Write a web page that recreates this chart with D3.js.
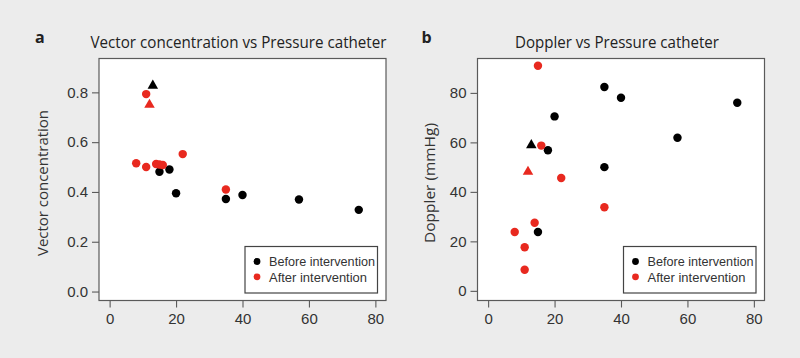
<!DOCTYPE html>
<html>
<head>
<meta charset="utf-8">
<script src="https://cdn.jsdelivr.net/npm/d3@7"></script>
<style>
  body { margin: 0; background: #ececec; }
  svg { display: block; font-family: "Open Sans", "Noto Sans", sans-serif; }
</style>
</head>
<body>
<svg id="chart" width="800" height="358"></svg>
<script>
// panel a: vector concentration vs pressure catheter
const vcBeforeX = [15, 18, 20, 35, 40, 57, 75];
const vcBeforeY = [0.481, 0.49, 0.395, 0.372, 0.388, 0.37, 0.328];
const vcBeforeTriX = [13];
const vcBeforeTriY = [0.827];
const vcAfterX = [11, 8, 11, 14, 15, 16, 22, 35];
const vcAfterY = [0.793, 0.515, 0.5, 0.512, 0.51, 0.508, 0.552, 0.41];
const vcAfterTriX = [12];
const vcAfterTriY = [0.75];

// panel b: doppler vs pressure catheter
const dpBeforeX = [35, 40, 20, 75, 57, 18, 35, 15];
const dpBeforeY = [82.4, 78, 70.5, 76, 61.9, 56.8, 50, 23.8];
const dpBeforeTriX = [13];
const dpBeforeTriY = [58.9];
const dpAfterX = [15, 16, 22, 35, 14, 8, 11, 11];
const dpAfterY = [91, 58.7, 45.6, 33.8, 27.5, 23.8, 17.6, 8.5];
const dpAfterTriX = [12];
const dpAfterTriY = [48.1];

const xTicks = [0, 20, 40, 60, 80];
const vcTicks = [0, 0.2, 0.4, 0.6, 0.8];
const dpTicks = [0, 20, 40, 60, 80];
const legendLabels = ["Before intervention", "After intervention"];

const black = "#000000", red = "#e8291f";
const svg = d3.select("#chart");

function zip(xs, ys) { return xs.map((x, i) => ({ x: x, y: ys[i] })); }

function drawPanel(opt) {
  const w = 287, h = 242;
  const g = svg.append("g").attr("transform", `translate(${opt.left},58.5)`);

  const x = d3.scaleLinear().domain([-3.2, 83.2]).range([0, w]);
  const y = d3.scaleLinear().domain(opt.yDomain).range([h, 0]);

  g.append("rect").attr("width", w).attr("height", h)
    .attr("fill", "#fff").attr("stroke", "#5a5a5a").attr("stroke-width", 1.2);

  // axes
  const xa = g.append("g").attr("transform", `translate(0,${h})`)
    .call(d3.axisBottom(x).tickValues(xTicks).tickSize(7).tickPadding(4));
  const ya = g.append("g")
    .call(d3.axisLeft(y).tickValues(opt.yTicks).tickFormat(opt.fmt).tickSize(7).tickPadding(4));
  [xa, ya].forEach(a => {
    a.select(".domain").remove();
    a.selectAll("line").attr("stroke", "#5a5a5a").attr("stroke-width", 1.1);
    a.selectAll("text").attr("fill", "#333").style("font-size", "15px");
  });
  xa.selectAll("text").attr("dy", "0.85em");

  // points
  const pts = [
    { data: zip(opt.bx, opt.by), color: black, shape: d3.symbolCircle, size: 56 },
    { data: zip(opt.btx, opt.bty), color: black, shape: d3.symbolTriangle, size: 48 },
    { data: zip(opt.ax, opt.ay), color: red, shape: d3.symbolCircle, size: 56 },
    { data: zip(opt.atx, opt.aty), color: red, shape: d3.symbolTriangle, size: 48 }
  ];
  pts.forEach(s => {
    g.selectAll(null).data(s.data).enter().append("path")
      .attr("d", d3.symbol().type(s.shape).size(s.size))
      .attr("transform", d => `translate(${x(d.x)},${y(d.y)})`)
      .attr("fill", s.color);
  });

  // legend
  const lg = g.append("g").attr("transform", `translate(${w - 141},${h - 54})`);
  lg.append("rect").attr("width", 132.5).attr("height", 46.5)
    .attr("fill", "#fff").attr("stroke", "#444").attr("stroke-width", 1.2);
  legendLabels.forEach((t, i) => {
    lg.append("circle").attr("cx", 12).attr("cy", 15 + i * 15.3).attr("r", 3.4)
      .attr("fill", i === 0 ? black : red);
    lg.append("text").attr("x", 24).attr("y", 15 + i * 15.3).attr("dy", "0.36em")
      .attr("fill", "#333").style("font-size", "13.5px")
      .style("font-family", "'Liberation Sans', Arial, sans-serif")
      .attr("textLength", i === 0 ? 106 : 98).attr("lengthAdjust", "spacingAndGlyphs")
      .text(t);
  });

  // title and panel letter
  svg.append("text").attr("x", opt.left + opt.titleX).attr("y", 48)
    .attr("text-anchor", "middle").attr("fill", "#222").style("font-size", "16.5px")
    .attr("textLength", opt.titleW).attr("lengthAdjust", "spacingAndGlyphs")
    .text(opt.title);
  svg.append("text").attr("x", opt.left + opt.letterX).attr("y", 43)
    .attr("fill", "#222").style("font-size", "16px").style("font-weight", "bold")
    .text(opt.letter);

  // y label
  svg.append("text")
    .attr("transform", `translate(${opt.left + opt.ylabX},183) rotate(-90)`)
    .attr("text-anchor", "middle").attr("fill", "#333").style("font-size", "15px")
    .attr("textLength", opt.ylabW).attr("lengthAdjust", "spacingAndGlyphs")
    .text(opt.ylab);
}

drawPanel({
  left: 99, yDomain: [-0.036, 0.936], yTicks: vcTicks, fmt: d3.format(".1f"),
  bx: vcBeforeX, by: vcBeforeY, btx: vcBeforeTriX, bty: vcBeforeTriY,
  ax: vcAfterX, ay: vcAfterY, atx: vcAfterTriX, aty: vcAfterTriY,
  title: "Vector concentration vs Pressure catheter", titleX: 139.5, titleW: 296,
  letter: "a", letterX: -64, ylab: "Vector concentration", ylabX: -51, ylabW: 146
});

drawPanel({
  left: 477.5, yDomain: [-3.9, 93.9], yTicks: dpTicks, fmt: d3.format("d"),
  bx: dpBeforeX, by: dpBeforeY, btx: dpBeforeTriX, bty: dpBeforeTriY,
  ax: dpAfterX, ay: dpAfterY, atx: dpAfterTriX, aty: dpAfterTriY,
  title: "Doppler vs Pressure catheter", titleX: 139.5, titleW: 204,
  letter: "b", letterX: -56, ylab: "Doppler (mmHg)", ylabX: -43, ylabW: 120
});
</script>
</body>
</html>
